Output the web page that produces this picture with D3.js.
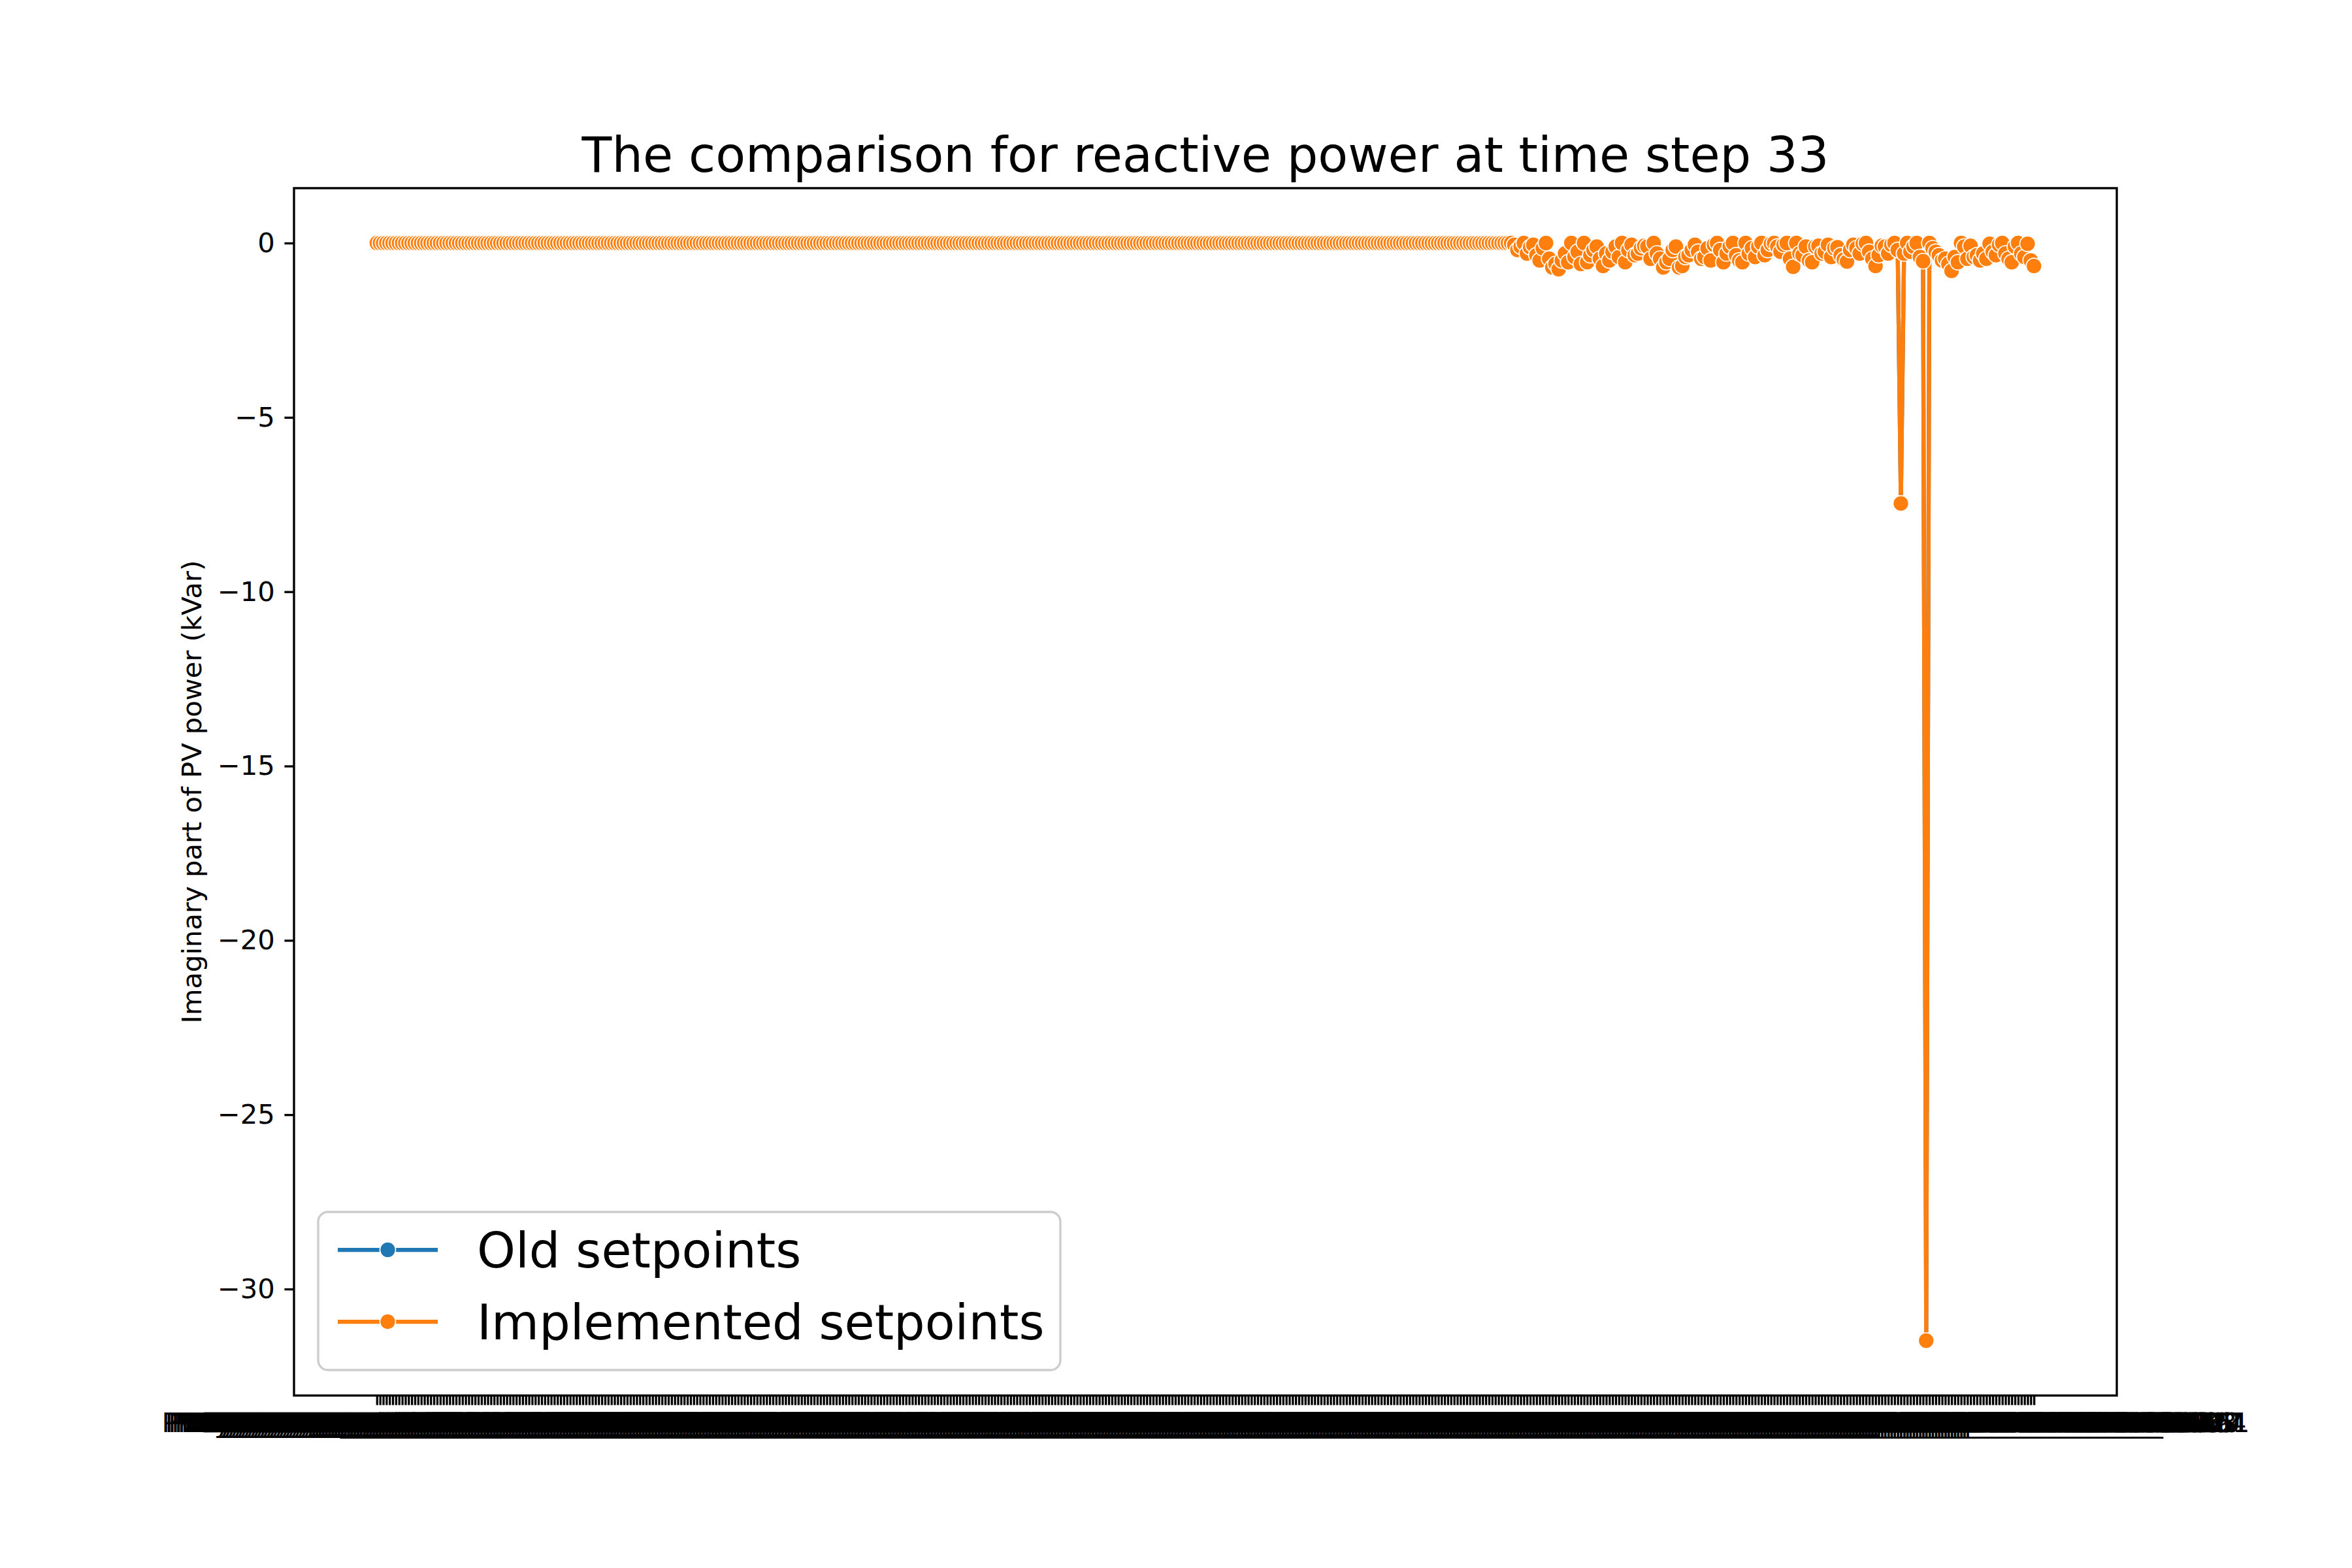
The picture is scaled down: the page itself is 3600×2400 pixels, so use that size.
<!DOCTYPE html>
<html>
<head>
<meta charset="utf-8">
<script src="https://cdn.jsdelivr.net/npm/d3@7"></script>
<style>
  html, body { margin: 0; padding: 0; background: #fff; }
  svg { display: block; font-family: "DejaVu Sans", sans-serif; }
</style>
</head>
<body>
<svg id="chart" width="3600" height="2400"></svg>
<script>
// ---------------- DATA ----------------
const chartTitle = "The comparison for reactive power at time step 33";
const yLabel = "Imaginary part of PV power (kVar)";
const seriesNames = ["Old setpoints", "Implemented setpoints"];
const seriesColors = ["#1f77b4", "#ff7f0e"];
const yTicks = [0, -5, -10, -15, -20, -25, -30];

// First part of the PV systems: reactive setpoint at zero
const flatPart = [
0,0,0,0,0,0,0,0,0,0,0,0,0,0,0,0,0,0,0,0,
0,0,0,0,0,0,0,0,0,0,0,0,0,0,0,0,0,0,0,0,
0,0,0,0,0,0,0,0,0,0,0,0,0,0,0,0,0,0,0,0,
0,0,0,0,0,0,0,0,0,0,0,0,0,0,0,0,0,0,0,0,
0,0,0,0,0,0,0,0,0,0,0,0,0,0,0,0,0,0,0,0,
0,0,0,0,0,0,0,0,0,0,0,0,0,0,0,0,0,0,0,0,
0,0,0,0,0,0,0,0,0,0,0,0,0,0,0,0,0,0,0,0,
0,0,0,0,0,0,0,0,0,0,0,0,0,0,0,0,0,0,0,0,
0,0,0,0,0,0,0,0,0,0,0,0,0,0,0,0,0,0,0,0,
0,0,0,0,0,0,0,0,0,0,0,0,0,0,0,0,0,0,0,0,
0,0,0,0,0,0,0,0,0,0,0,0,0,0,0,0,0,0,0,0,
0,0,0,0,0,0,0,0,0,0,0,0,0,0,0,0,0,0,0,0,
0,0,0,0,0,0,0,0,0,0,0,0,0,0,0,0,0,0,0,0,
0,0,0,0,0,0,0,0,0,0,0,0,0,0,0,0,0,0,0,0,
0,0,0,0,0,0,0,0,0,0,0,0,0,0,0,0,0,0,0,0,
0,0,0,0,0,0,0,0,0,0,0,0,0,0,0,0,0,0,0,0,
0,0,0,0,0,0,0,0,0,0,0,0,0,0,0,0,0,0,0,0,
0,0,0,0,0,0,0,0,0,0,0,0,0,0,0,0,0,0,0
];
// Last part: active reactive-power control
const activePart = [
-0.05,-0.2,-0.1,0,-0.3,-0.12,-0.05,-0.35,-0.5,-0.15,
0,-0.45,-0.7,-0.6,-0.75,-0.5,-0.3,-0.55,0,-0.4,
-0.25,-0.6,0,-0.55,-0.35,-0.2,-0.1,-0.45,-0.66,-0.3,
-0.5,-0.25,-0.1,-0.4,0,-0.55,-0.2,-0.05,-0.35,-0.3,
-0.15,-0.08,-0.1,-0.45,0,-0.3,-0.45,-0.7,-0.55,-0.45,
-0.2,-0.1,-0.7,-0.66,-0.4,-0.35,-0.2,-0.05,-0.25,-0.45,
-0.4,-0.15,-0.5,-0.05,0,-0.2,-0.55,-0.3,-0.1,0,
-0.35,-0.5,-0.55,0,-0.3,-0.15,-0.4,-0.1,0,-0.35,
-0.2,-0.02,0,-0.1,-0.25,-0.05,0,-0.45,-0.68,0,
-0.3,-0.35,-0.1,-0.5,-0.55,-0.1,-0.08,-0.3,-0.25,-0.05,
-0.4,-0.15,-0.12,-0.35,-0.47,-0.53,-0.2,-0.05,-0.15,-0.3,
-0.02,0,-0.25,-0.45,-0.66,-0.35,-0.08,-0.1,-0.3,-0.05,
0,-0.2,-7.47,-0.3,0,-0.25,-0.1,0,-0.4,-0.52,
-31.48,0,-0.15,-0.25,-0.35,-0.5,-0.45,-0.6,-0.8,-0.4,
-0.55,0,-0.1,-0.45,-0.08,-0.4,-0.35,-0.5,-0.3,-0.45,
-0.02,-0.25,-0.35,-0.05,0,-0.3,-0.45,-0.55,-0.1,0,
-0.3,-0.4,-0.02,-0.5,-0.66
];
const implementedSetpoints = flatPart.concat(activePart);
// Old setpoints coincide with implemented ones (fully hidden below them)
const oldSetpoints = implementedSetpoints.slice();

// PV system names (categories on the x axis)
const categories = implementedSetpoints.map((_, i) =>
  "PVSystem.pv_" + String(10234567 + ((i * 7919) % 89999999)).padStart(8, "0") + "_" + String(10000 + (i * 37) % 90000));

// ---------------- LAYOUT ----------------
const W = 3600, H = 2400;
const M = { left: 450, right: 3240, top: 288, bottom: 2136 };
const FS = 41.67;            // 10pt at 300 dpi
const svg = d3.select("#chart");

const n = categories.length;
const x = d3.scalePoint().domain(categories).range([M.left, M.right]).padding(0.05 * (n - 1));

const all = oldSetpoints.concat(implementedSetpoints);
const ymin = d3.min(all), ymax = d3.max(all), yr = ymax - ymin;
const y = d3.scaleLinear().domain([ymin - 0.05 * yr, ymax + 0.05 * yr]).range([M.bottom, M.top]);

const fmt = v => (v < 0 ? "\u2212" + Math.abs(v) : String(v));

// Title
svg.append("text").attr("x", (M.left + M.right) / 2).attr("y", M.top - 25)
  .attr("text-anchor", "middle").attr("font-size", 75).attr("fill", "#000").text(chartTitle);

// Y axis
const yAxis = d3.axisLeft(y).tickValues(yTicks).tickFormat(fmt).tickSize(14.6).tickPadding(14.6);
const gy = svg.append("g").attr("transform", `translate(${M.left},0)`).call(yAxis);
gy.select(".domain").remove();
gy.selectAll(".tick line").attr("stroke", "#000").attr("stroke-width", 3.33);
gy.selectAll(".tick text").attr("font-size", FS).attr("fill", "#000").attr("font-family", "DejaVu Sans");

// X axis
const xAxis = d3.axisBottom(x).tickSize(14.6).tickPadding(12);
const gx = svg.append("g").attr("transform", `translate(0,${M.bottom})`).call(xAxis);
gx.select(".domain").remove();
gx.selectAll(".tick line").attr("stroke", "#000").attr("stroke-width", 3.33);
gx.selectAll(".tick text").attr("font-size", FS).attr("fill", "#000").attr("font-family", "DejaVu Sans");

// Y label
svg.append("text")
  .attr("transform", `translate(${294 + 14},${(M.top + M.bottom) / 2}) rotate(-90)`)
  .attr("text-anchor", "middle").attr("font-size", FS).attr("fill", "#000").text(yLabel);

// Series
const series = [oldSetpoints, implementedSetpoints];
const line = d3.line().x((d, i) => x(categories[i])).y(d => y(d));
series.forEach((vals, s) => {
  const g = svg.append("g");
  g.append("path").datum(vals).attr("d", line).attr("fill", "none")
    .attr("stroke", seriesColors[s]).attr("stroke-width", 6.25).attr("stroke-linejoin", "round");
  g.selectAll("circle").data(vals).join("circle")
    .attr("cx", (d, i) => x(categories[i])).attr("cy", d => y(d)).attr("r", 12)
    .attr("fill", seriesColors[s]).attr("stroke", "#fff").attr("stroke-width", 1.7);
});

// Spines
svg.append("rect").attr("x", M.left).attr("y", M.top).attr("width", M.right - M.left).attr("height", M.bottom - M.top)
  .attr("fill", "none").attr("stroke", "#000").attr("stroke-width", 3.33);

// Legend
const LF = 75;
const lg = svg.append("g");
lg.append("rect").attr("x", 487).attr("y", 1855).attr("width", 1136).attr("height", 242)
  .attr("rx", 15).attr("ry", 15).attr("fill", "#fff").attr("fill-opacity", 0.8)
  .attr("stroke", "#cccccc").attr("stroke-width", 3.33);
const rowsY = [1913, 2023];
seriesNames.forEach((name, s) => {
  const cy = rowsY[s];
  lg.append("line").attr("x1", 517).attr("x2", 670).attr("y1", cy).attr("y2", cy)
    .attr("stroke", seriesColors[s]).attr("stroke-width", 6.25);
  lg.append("circle").attr("cx", 593.5).attr("cy", cy).attr("r", 12)
    .attr("fill", seriesColors[s]).attr("stroke", "#fff").attr("stroke-width", 1.7);
  lg.append("text").attr("x", 730).attr("y", cy).attr("dy", "0.36em")
    .attr("font-size", LF).attr("fill", "#000").text(name);
});
</script>
</body>
</html>
